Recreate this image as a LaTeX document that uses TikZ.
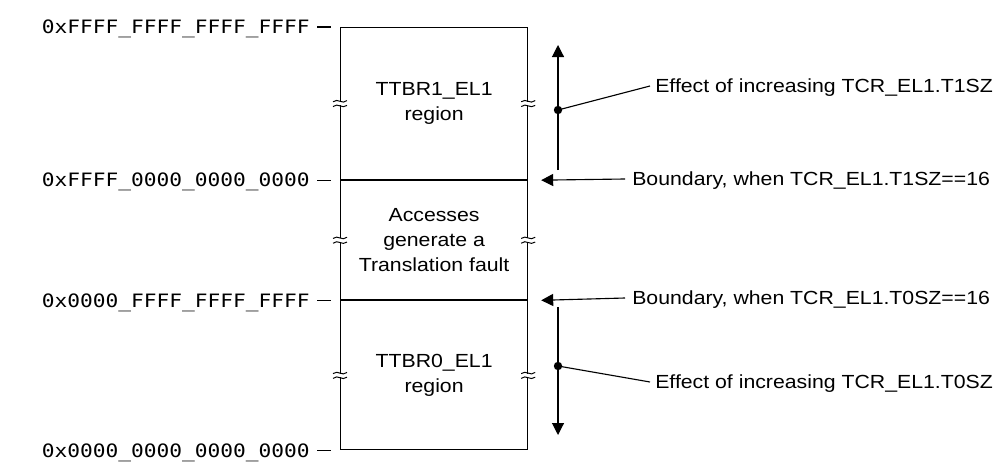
\documentclass[tikz,border=0pt]{standalone}
\usepackage{fontspec}
\setmainfont[FakeStretch=1.12]{Liberation Sans}
\newfontfamily\addrfont[FakeStretch=1.15]{DejaVu Sans Mono}
\usetikzlibrary{positioning, arrows.meta, calc}

\tikzset{
  brk/.pic={
    \fill[white] (-7,-1.8) rectangle (7,1.8);
    \draw[line width=0.7pt] (-7,-1.8) .. controls (-2,-6) and (2,1.5) .. (7,-3);
    \draw[line width=0.7pt] (-7,3) .. controls (-2,-1.5) and (2,6) .. (7,1.8);
  }
}

\begin{document}
\begin{tikzpicture}[x=0.025cm, y=-0.025cm,
    region/.style={rectangle, draw, line width=0.8pt, minimum width=4.675cm,
                   inner sep=0pt, align=center, font=\fontsize{13.5}{18}\selectfont},
    addr/.style={inner sep=0pt, text height=9.5pt, text depth=0pt,
                 font=\addrfont\fontsize{13.1}{15}\selectfont},
    note/.style={inner sep=0pt, anchor=west, text height=9.7pt, text depth=0pt,
                 font=\fontsize{13.5}{16}\selectfont},
    arr/.style={-{Triangle[length=0.3cm, width=0.3cm]}, line width=0.8pt},
    wire/.style={line width=0.8pt},
    dot/.style={circle, fill, inner sep=0pt, minimum size=0.21cm}
]
    \useasboundingbox (0,0) rectangle (1003,466);

    % Address space
    \node[region, minimum height=3.8cm, anchor=north west] (ttbr1) at (340,27) {TTBR1\_EL1\\region};
    \node[region, minimum height=2.975cm, anchor=north] (fault) at (ttbr1.south) {Accesses\\generate a\\Translation fault};
    \node[region, minimum height=3.725cm, anchor=north] (ttbr0) at (fault.south) {TTBR0\_EL1\\region};

    % Break marks
    \foreach \r in {ttbr1, fault, ttbr0} {
        \pic at (\r.west) {brk};
        \pic at (\r.east) {brk};
    }

    % Addresses
    \node[addr, left=0.75cm of ttbr1.north west] (a3) {0xFFFF\_FFFF\_FFFF\_FFFF};
    \node[addr, left=0.75cm of ttbr1.south west] (a2) {0xFFFF\_0000\_0000\_0000};
    \node[addr, left=0.75cm of ttbr0.north west] (a1) {0x0000\_FFFF\_FFFF\_FFFF};
    \node[addr, left=0.75cm of ttbr0.south west] (a0) {0x0000\_0000\_0000\_0000};
    \foreach \a in {a0, a1, a2, a3}
        \draw[wire] ([xshift=0.175cm]\a.east) -- ++(14,0);

    % Boundaries
    \node[note] (b1) at (632,179) {Boundary, when TCR\_EL1.T1SZ==16};
    \node[note] (b0) at (632,298) {Boundary, when TCR\_EL1.T0SZ==16};
    \draw[arr] ([xshift=-0.175cm]b1.west) -- ($(ttbr1.south east)+(13,0)$);
    \draw[arr] ([xshift=-0.175cm]b0.west) -- ($(ttbr0.north east)+(13,0)$);

    % T1SZ effect
    \coordinate (u0) at (558,170);
    \coordinate (u1) at (558,45);
    \draw[arr] (u0) -- (u1);
    \node[dot] (p1) at (558,110) {};
    \node[note] (e1) at (655,86) {Effect of increasing TCR\_EL1.T1SZ};
    \draw[wire] (p1.center) -- ([xshift=-0.125cm]e1.west);

    % T0SZ effect
    \coordinate (v0) at (558,307);
    \coordinate (v1) at (558,435);
    \draw[arr] (v0) -- (v1);
    \node[dot] (p0) at (558,366) {};
    \node[note] (e0) at (655,382) {Effect of increasing TCR\_EL1.T0SZ};
    \draw[wire] (p0.center) -- ([xshift=-0.125cm]e0.west);
\end{tikzpicture}
\end{document}
